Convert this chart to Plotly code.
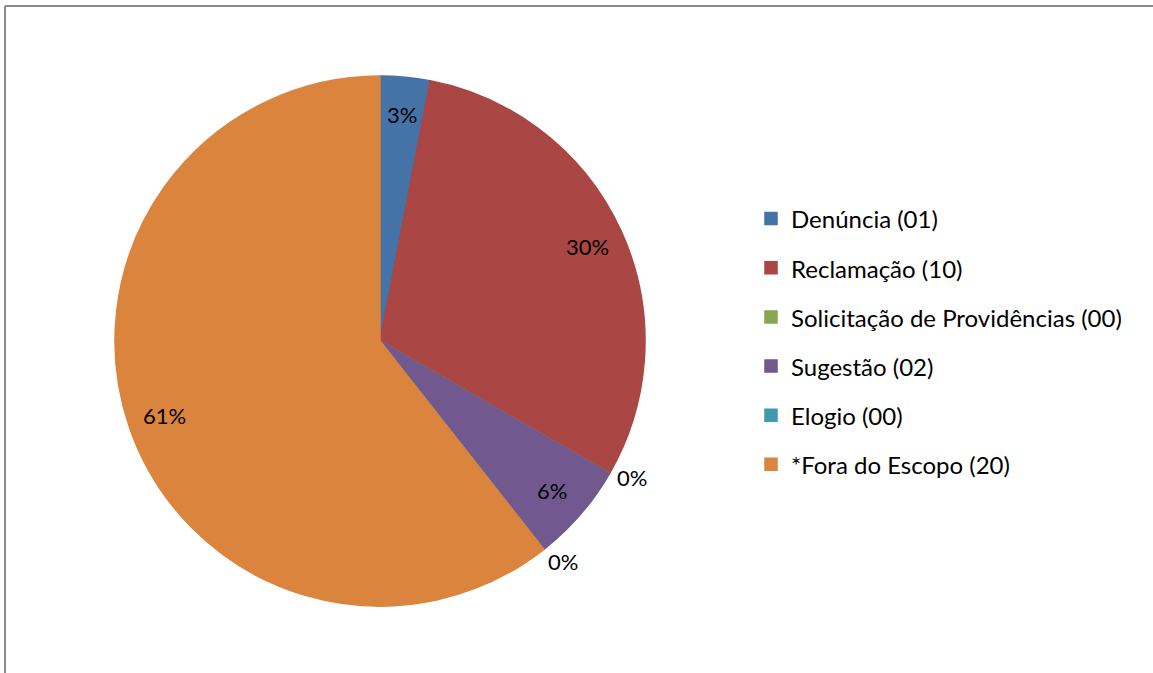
import math
import plotly.graph_objects as go

categories = ["Denúncia (01)", "Reclamação (10)", "Solicitação de Providências (00)",
              "Sugestão (02)", "Elogio (00)", "*Fora do Escopo (20)"]
values = [1, 10, 0, 2, 0, 20]
colors = ["#4572A7", "#AA4643", "#89A54E", "#71588F", "#4198AF", "#DB843D"]

W, H = 1168, 673
CX, CY, R = 380, 341, 265
FONT = "Lato"

total = sum(values)
pct = [round(v / total * 100) for v in values]

fig = go.Figure(go.Pie(
    labels=[f'<span style="font-size:24px;baseline-shift:4px">{c}</span>' for c in categories],
    values=values,
    sort=False,
    direction="clockwise",
    rotation=0,
    textinfo="none",
    hoverinfo="label+percent",
    marker=dict(colors=colors, line=dict(color=colors, width=1.5)),
    domain=dict(x=[(CX - R) / W, (CX + R) / W], y=[1 - (CY + R) / H, 1 - (CY - R) / H]),
    showlegend=True,
))

annotations = []
cum = 0
for v, p in zip(values, pct):
    if v > 0:
        ang = math.radians((cum + v / 2) / total * 360)
        r = 0.86 * R
    else:
        ang = math.radians(cum / total * 360 - 1.5)
        r = 1.08 * R
    px = CX + r * math.sin(ang)
    py = CY - r * math.cos(ang)
    annotations.append(dict(
        x=px / W, y=1 - py / H, xref="paper", yref="paper",
        text=f"{p}%", showarrow=False, xanchor="center", yanchor="middle",
        font=dict(family=FONT, size=22, color="#000000"),
    ))
    cum += v

border = dict(color="#8A8A8A", width=2)
fig.update_layout(
    width=W, height=H,
    margin=dict(l=0, r=0, t=0, b=0),
    paper_bgcolor="white",
    plot_bgcolor="white",
    font=dict(family=FONT, size=22, color="#000000"),
    legend=dict(
        x=751 / W, y=1 - 189 / H, xanchor="left", yanchor="top",
        font=dict(family=FONT, size=35.5, color="#000000"),
        bgcolor="rgba(0,0,0,0)",
    ),
    annotations=annotations,
    shapes=[
        dict(type="line", xref="paper", yref="paper",
             x0=5 / W, x1=1, y0=1 - 6 / H, y1=1 - 6 / H, line=border),
        dict(type="line", xref="paper", yref="paper",
             x0=5 / W, x1=5 / W, y0=0, y1=1 - 6 / H, line=border),
    ],
)

fig.write_html("out.html", config={"displayModeBar": False},
               post_script="document.body.style.margin='0';document.body.style.overflow='hidden';document.documentElement.style.overflow='hidden';")
